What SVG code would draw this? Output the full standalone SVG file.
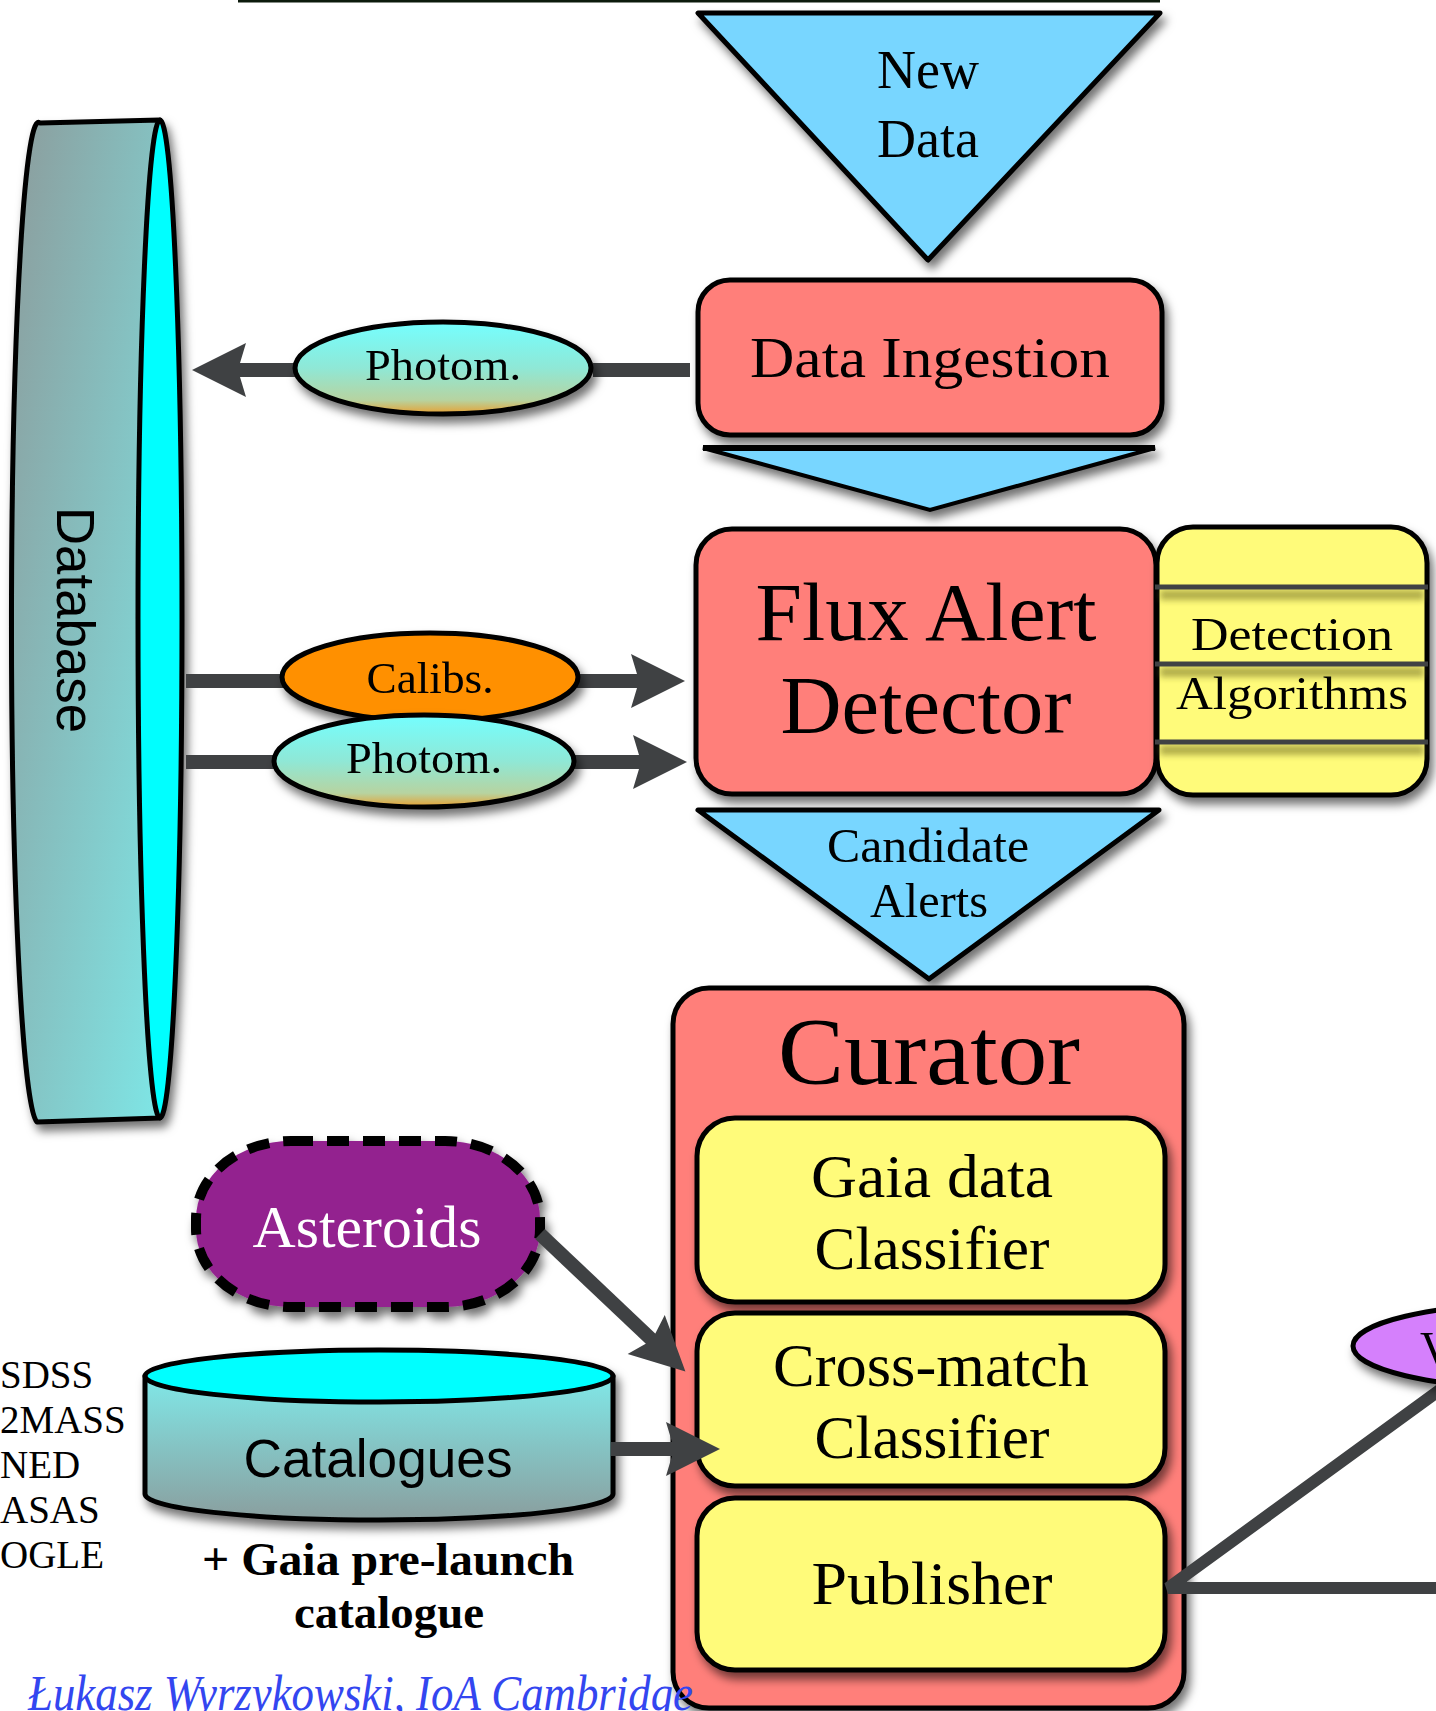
<svg xmlns="http://www.w3.org/2000/svg" width="1436" height="1711" viewBox="0 0 1436 1711">
  <defs>
    <style>
      .serif { font-family: "Liberation Serif", "Times New Roman", serif; fill: #000; }
      .sans { font-family: "Liberation Sans", Arial, sans-serif; fill: #000; }
      .edge { stroke: #000; stroke-width: 5; stroke-linejoin: round; }
      .salmon { fill: #ff7f7a; }
      .yellow { fill: #fffb7a; }
      .sky { fill: #78d6ff; }
      .wire { stroke: #3f4143; stroke-width: 14; fill: none; }
      .mid { text-anchor: middle; }
    </style>
    <filter id="shadow" x="-15%" y="-15%" width="140%" height="140%">
      <feDropShadow dx="4" dy="7" stdDeviation="5" flood-color="#000" flood-opacity="0.55"/>
    </filter>
    <filter id="soft" x="-5%" y="-200%" width="110%" height="500%">
      <feGaussianBlur stdDeviation="3"/>
    </filter>
    <linearGradient id="dbBody" x1="0" y1="0" x2="1" y2="1">
      <stop offset="0" stop-color="#8c9c9c"/>
      <stop offset="1" stop-color="#7ee6e6"/>
    </linearGradient>
    <linearGradient id="photom" x1="0" y1="0" x2="0" y2="1">
      <stop offset="0" stop-color="#74ffff"/>
      <stop offset="0.5" stop-color="#8fe8d6"/>
      <stop offset="0.85" stop-color="#b7d3a0"/>
      <stop offset="1" stop-color="#e8a030"/>
    </linearGradient>
    <linearGradient id="catBody" x1="0" y1="0" x2="0" y2="1">
      <stop offset="0" stop-color="#80e8e8"/>
      <stop offset="1" stop-color="#8a9e9e"/>
    </linearGradient>
    <marker id="head" markerUnits="userSpaceOnUse" viewBox="-10 -30 60 60" markerWidth="60" markerHeight="60" refX="0" refY="0" orient="auto">
      <path d="M46,0 L-8,-27 L-2,-7 L-2,7 L-8,27 Z" fill="#3f4143"/>
    </marker>
  </defs>

  <rect width="1436" height="1711" fill="#fff"/>

  <!-- rule across the top -->
  <line x1="238" y1="1" x2="1160" y2="1" stroke="#0c1a0c" stroke-width="3"/>

  <!-- incoming data -->
  <g id="new-data" filter="url(#shadow)">
    <polygon points="698,13 1160,13 928,260" class="sky edge"/>
    <text x="928" y="88" class="serif mid" font-size="54">New</text>
    <text x="928" y="157" class="serif mid" font-size="54">Data</text>
  </g>

  <!-- database cylinder on its side -->
  <g id="database" filter="url(#shadow)">
    <path d="M40,123 L160,120 L160,1118 L37,1122 A27,500 0 0 1 40,123 Z" fill="url(#dbBody)" class="edge"/>
    <ellipse cx="160" cy="619" rx="22" ry="499" fill="#00ffff" class="edge"/>
    <text transform="translate(57,507) rotate(90)" class="sans" font-size="54" textLength="226" lengthAdjust="spacingAndGlyphs">Database</text>
  </g>

  <g id="data-ingestion" filter="url(#shadow)">
    <rect x="698" y="280" width="464" height="155" rx="32" class="salmon edge"/>
    <text x="930" y="377" class="serif mid" font-size="56" textLength="360" lengthAdjust="spacingAndGlyphs">Data Ingestion</text>
  </g>

  <g id="ingestion-flow" filter="url(#shadow)">
    <polygon points="703,448 1155,448 930,510" class="sky" stroke="#000" stroke-width="4" stroke-linejoin="miter"/>
    <line x1="703" y1="448" x2="1155" y2="448" stroke="#000" stroke-width="6"/>
  </g>

  <g id="flux-alert-detector" filter="url(#shadow)">
    <rect x="696" y="529" width="460" height="265" rx="36" class="salmon edge"/>
    <text x="926" y="640" class="serif mid" font-size="82" textLength="341" lengthAdjust="spacingAndGlyphs">Flux Alert</text>
    <text x="926" y="733" class="serif mid" font-size="82" textLength="291" lengthAdjust="spacingAndGlyphs">Detector</text>
  </g>

  <g id="detection-algorithms">
    <rect x="1157" y="527" width="270" height="268" rx="36" class="yellow edge" filter="url(#shadow)"/>
    <g fill="#6f6d20" opacity="0.55" filter="url(#soft)">
      <rect x="1160" y="590" width="264" height="10"/>
      <rect x="1160" y="667" width="264" height="10"/>
      <rect x="1160" y="745" width="264" height="10"/>
    </g>
    <g stroke="#404244" stroke-width="5">
      <line x1="1155" y1="587" x2="1428" y2="587"/>
      <line x1="1155" y1="664" x2="1428" y2="664"/>
      <line x1="1155" y1="742" x2="1428" y2="742"/>
    </g>
    <text x="1292" y="650" class="serif mid" font-size="46" textLength="202" lengthAdjust="spacingAndGlyphs">Detection</text>
    <text x="1292" y="709" class="serif mid" font-size="46" textLength="232" lengthAdjust="spacingAndGlyphs">Algorithms</text>
  </g>

  <g id="candidate-alerts" filter="url(#shadow)">
    <polygon points="698,810 1159,810 929,979" class="sky edge"/>
    <text x="928" y="862" class="serif mid" font-size="48" textLength="202" lengthAdjust="spacingAndGlyphs">Candidate</text>
    <text x="929" y="917" class="serif mid" font-size="48" textLength="118" lengthAdjust="spacingAndGlyphs">Alerts</text>
  </g>

  <g id="curator">
    <rect x="673" y="988" width="511" height="720" rx="36" class="salmon edge" filter="url(#shadow)"/>
    <text x="929" y="1084" class="serif mid" font-size="96" textLength="302" lengthAdjust="spacingAndGlyphs">Curator</text>
    <g filter="url(#shadow)">
      <rect x="697" y="1118" width="468" height="184" rx="38" class="yellow edge"/>
      <rect x="697" y="1313" width="468" height="173" rx="38" class="yellow edge"/>
      <rect x="697" y="1498" width="468" height="172" rx="38" class="yellow edge"/>
    </g>
  </g>

  <g id="gaia-data-classifier">
    <text x="932" y="1197" class="serif mid" font-size="62" textLength="242" lengthAdjust="spacingAndGlyphs">Gaia data</text>
    <text x="932" y="1269" class="serif mid" font-size="62" textLength="235" lengthAdjust="spacingAndGlyphs">Classifier</text>
  </g>
  <g id="cross-match-classifier">
    <text x="931" y="1386" class="serif mid" font-size="62" textLength="316" lengthAdjust="spacingAndGlyphs">Cross-match</text>
    <text x="932" y="1458" class="serif mid" font-size="62" textLength="235" lengthAdjust="spacingAndGlyphs">Classifier</text>
  </g>
  <g id="publisher">
    <text x="932" y="1604" class="serif mid" font-size="62" textLength="241" lengthAdjust="spacingAndGlyphs">Publisher</text>
  </g>

  <g id="asteroids" filter="url(#shadow)">
    <rect x="196" y="1141" width="344" height="166" rx="95" ry="78" fill="#93218f" stroke="#000" stroke-width="10" stroke-dasharray="22 14"/>
    <text x="367" y="1247" class="serif mid" font-size="60" style="fill:#fff" textLength="229" lengthAdjust="spacingAndGlyphs">Asteroids</text>
  </g>

  <g id="catalogues">
    <g filter="url(#shadow)">
      <path d="M145,1376 L145,1494 A234,26 0 0 0 613,1494 L613,1376 Z" fill="url(#catBody)" class="edge"/>
      <ellipse cx="379" cy="1376" rx="234" ry="26" fill="#00ffff" class="edge"/>
    </g>
    <text x="378" y="1477" class="sans mid" font-size="54" textLength="269" lengthAdjust="spacingAndGlyphs">Catalogues</text>
  </g>

  <g id="survey-list" class="serif" font-size="39">
    <text x="0" y="1388">SDSS</text>
    <text x="0" y="1433">2MASS</text>
    <text x="0" y="1478">NED</text>
    <text x="0" y="1523">ASAS</text>
    <text x="0" y="1568">OGLE</text>
  </g>

  <g id="pre-launch" class="serif" font-weight="bold" font-size="46">
    <text x="388" y="1575" class="mid" textLength="372" lengthAdjust="spacingAndGlyphs">+ Gaia pre-launch</text>
    <text x="389" y="1628" class="mid" textLength="190" lengthAdjust="spacingAndGlyphs">catalogue</text>
  </g>

  <text x="28" y="1710" font-family="Liberation Serif, serif" font-style="italic" font-size="50" fill="#3346f0" textLength="665" lengthAdjust="spacingAndGlyphs">Łukasz Wyrzykowski, IoA Cambridge</text>

  <!-- connectors -->
  <g id="connectors">
    <line x1="690" y1="370" x2="593" y2="370" class="wire"/>
    <line x1="297" y1="370" x2="238" y2="370" class="wire" marker-end="url(#head)"/>
    <line x1="186" y1="681" x2="284" y2="681" class="wire"/>
    <line x1="577" y1="681" x2="639" y2="681" class="wire" marker-end="url(#head)"/>
    <line x1="186" y1="762" x2="277" y2="762" class="wire"/>
    <line x1="572" y1="762" x2="641" y2="762" class="wire" marker-end="url(#head)"/>
    <line x1="540" y1="1234" x2="652" y2="1340" class="wire" marker-end="url(#head)"/>
    <line x1="611" y1="1449" x2="674" y2="1449" class="wire" marker-end="url(#head)"/>
    <polyline points="1448,1384 1168,1588 1440,1588" stroke="#3f4143" stroke-width="12" fill="none" stroke-linejoin="bevel"/>
  </g>

  <!-- label ellipses sitting on the wires -->
  <g id="photom-out" filter="url(#shadow)">
    <ellipse cx="443" cy="368" rx="148" ry="46" fill="url(#photom)" class="edge"/>
    <text x="443" y="380" class="serif mid" font-size="44" textLength="156" lengthAdjust="spacingAndGlyphs">Photom.</text>
  </g>
  <g id="calibs" filter="url(#shadow)">
    <ellipse cx="430" cy="677" rx="148" ry="44" fill="#ff9000" class="edge"/>
    <text x="430" y="693" class="serif mid" font-size="44" textLength="127" lengthAdjust="spacingAndGlyphs">Calibs.</text>
  </g>
  <g id="photom-in" filter="url(#shadow)">
    <ellipse cx="424" cy="761" rx="150" ry="46" fill="url(#photom)" class="edge"/>
    <text x="424" y="773" class="serif mid" font-size="44" textLength="156" lengthAdjust="spacingAndGlyphs">Photom.</text>
  </g>

  <g id="v-node" filter="url(#shadow)">
    <ellipse cx="1532" cy="1346" rx="179" ry="42" fill="#d580fc" class="edge"/>
    <text x="1420" y="1364" class="serif" font-size="46">V</text>
  </g>
</svg>
